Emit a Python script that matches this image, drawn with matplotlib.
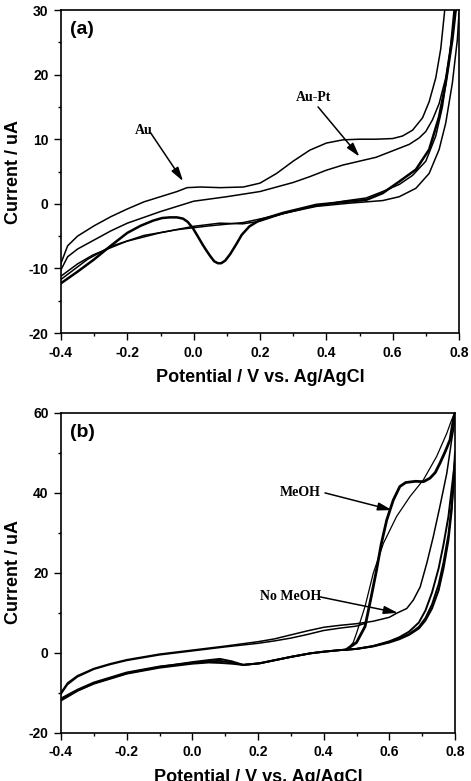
import matplotlib.pyplot as plt
from matplotlib.ticker import MultipleLocator

# fuentes
sans = ['Liberation Sans', 'DejaVu Sans']
serif = ['Liberation Serif', 'DejaVu Serif']

# ---------------- panel (a) ----------------
# barrido anodico superior (Au)
a_up1_x = [-0.4, -0.38, -0.35, -0.30, -0.25, -0.20, -0.15, -0.10, -0.05, -0.02, 0.02, 0.08, 0.15, 0.20, 0.25, 0.30, 0.35, 0.40, 0.45, 0.50, 0.55, 0.60, 0.63, 0.66, 0.69, 0.71, 0.73, 0.745, 0.757]
a_up1_y = [-9.2, -6.5, -5.0, -3.4, -2.0, -0.8, 0.3, 1.1, 1.9, 2.5, 2.6, 2.5, 2.6, 3.2, 4.7, 6.6, 8.3, 9.4, 9.9, 10.0, 10.0, 10.1, 10.5, 11.4, 13.3, 15.8, 19.5, 24.0, 30.0]
# barrido anodico inferior (Au-Pt)
a_up2_x = [-0.4, -0.38, -0.35, -0.30, -0.25, -0.20, -0.10, 0.0, 0.10, 0.20, 0.30, 0.35, 0.40, 0.45, 0.50, 0.55, 0.60, 0.65, 0.68, 0.70, 0.72, 0.74, 0.76, 0.775, 0.79]
a_up2_y = [-10.2, -8.2, -7.0, -5.6, -4.2, -3.0, -1.2, 0.4, 1.1, 1.9, 3.3, 4.2, 5.2, 6.0, 6.6, 7.2, 8.2, 9.2, 10.2, 11.2, 13.0, 15.5, 19.5, 24.5, 30.0]
# barrido catodico con pico de reduccion
a_dn1_x = [0.79, 0.78, 0.76, 0.74, 0.71, 0.67, 0.62, 0.57, 0.52, 0.47, 0.37, 0.27, 0.20, 0.168, 0.145, 0.128, 0.11, 0.095, 0.083, 0.073, 0.062, 0.05, 0.038, 0.028, 0.012, -0.002, -0.018, -0.032, -0.05, -0.072, -0.095, -0.122, -0.16, -0.20, -0.25, -0.30, -0.35, -0.40]
a_dn1_y = [30.0, 25.4, 18.7, 13.5, 8.4, 5.3, 3.45, 1.65, 0.6, 0.36, -0.15, -1.4, -2.5, -3.5, -4.8, -6.3, -7.8, -8.8, -9.2, -9.2, -8.9, -8.1, -7.2, -6.4, -5.0, -3.8, -2.8, -2.3, -2.1, -2.1, -2.2, -2.6, -3.4, -4.5, -6.5, -8.6, -10.5, -12.3]
# barrido catodico plano
a_dn2_x = [0.80, 0.795, 0.78, 0.76, 0.74, 0.71, 0.67, 0.62, 0.57, 0.52, 0.47, 0.37, 0.27, 0.20, 0.148, 0.078, -0.002, -0.102, -0.202, -0.303, -0.35, -0.40]
a_dn2_y = [29.5, 25.4, 18.7, 12.5, 8.4, 4.7, 2.4, 1.1, 0.5, 0.3, 0.1, -0.4, -1.5, -2.7, -3.1, -3.0, -3.5, -4.5, -5.8, -7.9, -9.3, -11.2]
# tercer barrido catodico
a_dn3_x = [0.785, 0.77, 0.75, 0.73, 0.70, 0.66, 0.62, 0.57, 0.52, 0.45, 0.35, 0.25, 0.15, 0.05, -0.05, -0.15, -0.25, -0.32, -0.40]
a_dn3_y = [30.0, 22.0, 15.0, 10.5, 6.6, 4.4, 3.0, 1.9, 0.9, 0.4, -0.5, -1.8, -2.9, -3.4, -4.0, -4.9, -6.6, -8.6, -11.7]

# ---------------- panel (b) ----------------
# linea base superior (dos ciclos)
b_up1_x = [-0.4, -0.38, -0.35, -0.30, -0.25, -0.20, -0.10, 0.0, 0.10, 0.20, 0.25, 0.30, 0.35, 0.40, 0.45, 0.50, 0.55, 0.60, 0.622, 0.653, 0.673, 0.694, 0.714, 0.734, 0.754, 0.775, 0.79, 0.80]
b_up1_y = [-10.0, -7.6, -5.8, -4.0, -2.8, -1.8, -0.4, 0.6, 1.6, 2.7, 3.4, 4.4, 5.4, 6.3, 6.8, 7.2, 7.8, 8.8, 9.8, 11.0, 13.1, 16.4, 22.3, 29.0, 36.5, 44.8, 53.2, 58.0]
b_up2_x = [-0.4, -0.38, -0.35, -0.30, -0.25, -0.20, -0.10, 0.0, 0.10, 0.20, 0.25, 0.30, 0.35, 0.40, 0.45, 0.50, 0.53]
b_up2_y = [-10.4, -8.0, -6.1, -4.2, -3.0, -2.0, -0.6, 0.4, 1.4, 2.3, 2.9, 3.6, 4.5, 5.5, 6.1, 6.6, 7.4]
# linea base inferior (varios ciclos)
b_lo_x = [-0.4, -0.35, -0.30, -0.20, -0.10, 0.0, 0.05, 0.084, 0.12, 0.155, 0.205, 0.30, 0.36, 0.40, 0.45, 0.50, 0.55, 0.60, 0.63, 0.66, 0.69, 0.71, 0.73, 0.75, 0.765, 0.78, 0.79, 0.80]
b_lo1_y = [-12.0, -9.6, -7.7, -5.2, -3.6, -2.4, -1.9, -1.6, -2.2, -3.1, -2.7, -1.1, -0.2, 0.2, 0.6, 0.9, 1.6, 2.8, 3.8, 5.2, 7.5, 10.5, 15.0, 21.0, 27.0, 34.0, 41.0, 48.0]
b_lo2_y = [-11.5, -9.3, -7.5, -5.0, -3.5, -2.6, -2.2, -2.1, -2.5, -3.1, -2.7, -1.1, -0.2, 0.2, 0.6, 0.9, 1.6, 2.6, 3.5, 4.6, 6.4, 8.6, 12.0, 17.0, 22.5, 29.5, 37.0, 45.0]
b_lo3_y = [-11.8, -9.5, -7.8, -5.3, -3.8, -2.8, -2.5, -2.6, -2.8, -3.1, -2.7, -1.1, -0.2, 0.2, 0.6, 0.9, 1.5, 2.5, 3.3, 4.4, 6.0, 8.0, 11.0, 15.5, 21.0, 28.0, 35.5, 50.0]
# oxidacion de metanol (trazo grueso y fino)
b_meoh1_x = [0.47, 0.50, 0.526, 0.545, 0.561, 0.575, 0.592, 0.612, 0.632, 0.65, 0.68, 0.704, 0.724, 0.74, 0.754, 0.77, 0.785, 0.795, 0.80]
b_meoh1_y = [0.8, 2.5, 6.5, 14.0, 20.6, 27.0, 33.1, 38.1, 41.5, 42.5, 42.8, 42.7, 43.6, 45.0, 47.3, 50.2, 53.2, 58.2, 60.0]
b_meoh2_x = [0.47, 0.49, 0.50, 0.526, 0.551, 0.582, 0.622, 0.663, 0.704, 0.744, 0.775, 0.79, 0.80]
b_meoh2_y = [0.6, 2.5, 4.8, 11.5, 19.8, 27.3, 34.0, 39.0, 43.2, 49.0, 54.8, 58.2, 60.0]

fig = plt.figure(figsize=(4.71, 7.81), dpi=100)
ax1 = fig.add_axes([61/471, 1-333/781, 398/471, 323/781])
ax2 = fig.add_axes([61/471, 1-732.5/781, 394/471, 320/781])

lw = 1.1
ax1.plot(a_up1_x, a_up1_y, color='k', lw=lw)
ax1.plot(a_up2_x, a_up2_y, color='k', lw=lw)
ax1.plot(a_dn1_x, a_dn1_y, color='k', lw=1.8)
ax1.plot(a_dn2_x, a_dn2_y, color='k', lw=lw)
ax1.plot(a_dn3_x, a_dn3_y, color='k', lw=lw)

ax2.plot(b_up1_x, b_up1_y, color='k', lw=lw)
ax2.plot(b_up2_x, b_up2_y, color='k', lw=lw)
ax2.plot(b_lo_x, b_lo1_y, color='k', lw=1.4)
ax2.plot(b_lo_x, b_lo2_y, color='k', lw=1.4)
ax2.plot(b_lo_x, b_lo3_y, color='k', lw=1.4)
ax2.plot(b_meoh1_x, b_meoh1_y, color='k', lw=2.0)
ax2.plot(b_meoh2_x, b_meoh2_y, color='k', lw=0.9)

arrow = dict(arrowstyle='-|>,head_length=0.7,head_width=0.2', color='k', lw=1.1,
             shrinkA=0, shrinkB=0, mutation_scale=12)

# anotaciones
ax1.text(-0.15, 11.3, 'Au', family=serif, fontweight='bold', fontsize=10, ha='center', va='center')
ax1.annotate('', xy=(-0.032, 3.5), xytext=(-0.13, 11.0), arrowprops=arrow)
ax1.text(0.36, 16.4, 'Au-Pt', family=serif, fontweight='bold', fontsize=10, ha='center', va='center')
ax1.annotate('', xy=(0.50, 7.3), xytext=(0.375, 15.0), arrowprops=arrow)

ax2.text(0.328, 40.1, 'MeOH', family=serif, fontweight='bold', fontsize=10, ha='center', va='center')
ax2.annotate('', xy=(0.608, 35.6), xytext=(0.404, 39.9), arrowprops=arrow)
ax2.text(0.300, 13.9, 'No MeOH', family=serif, fontweight='bold', fontsize=10, ha='center', va='center')
ax2.annotate('', xy=(0.626, 9.9), xytext=(0.389, 13.9), arrowprops=arrow)

for ax, lab, ylim, ymaj, ymin in [(ax1, '(a)', (-20, 30), 10, 5), (ax2, '(b)', (-20, 60), 20, 10)]:
    ax.set_xlim(-0.4, 0.8)
    ax.set_ylim(*ylim)
    ax.xaxis.set_major_locator(MultipleLocator(0.2))
    ax.xaxis.set_minor_locator(MultipleLocator(0.1))
    ax.yaxis.set_major_locator(MultipleLocator(ymaj))
    ax.yaxis.set_minor_locator(MultipleLocator(ymin))
    ax.set_xticklabels(['%.1f' % v for v in ax.get_xticks()])
    ax.set_yticklabels(['%d' % v for v in ax.get_yticks()])
    ax.tick_params(which='major', direction='out', length=5, width=1.0, labelsize=10, pad=4)
    ax.tick_params(which='minor', direction='out', length=2.5, width=1.0)
    for t in ax.get_xticklabels() + ax.get_yticklabels():
        t.set_family(sans)
        t.set_fontweight('bold')
    for s in ax.spines.values():
        s.set_linewidth(1.2)
    ax.set_xlabel('Potential / V vs. Ag/AgCl', family=sans, fontweight='bold', fontsize=13, labelpad=7)
    ax.set_ylabel('Current / uA', family=sans, fontweight='bold', fontsize=13, labelpad=5)
    ax.text(0.023, 0.965, lab, transform=ax.transAxes, family=sans, fontweight='bold',
            fontsize=14, ha='left', va='top')

fig.savefig('out.png', dpi=100)
